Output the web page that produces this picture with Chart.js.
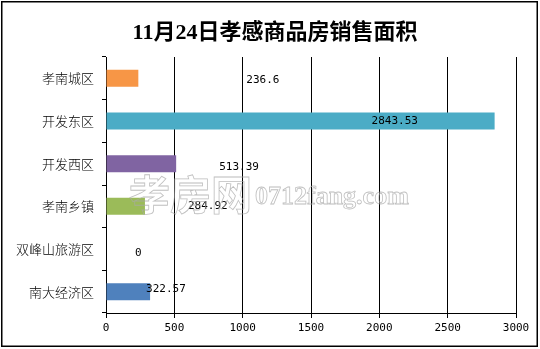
<!DOCTYPE html>
<html>
<head>
<meta charset="utf-8">
<script src="https://cdn.jsdelivr.net/npm/chart.js@4/dist/chart.umd.min.js"></script>
<style>
	html, body { margin: 0; padding: 0; background: #fff; }
	#wrap { width: 540px; height: 349px; position: relative; }
</style>
</head>
<body>
<div id="wrap"><canvas id="areaChart"></canvas></div>
<script>
(() => {
	"use strict";

	const chartTitle = "11月24日孝感商品房销售面积";
	const categories = ["孝南城区", "开发东区", "开发西区", "孝南乡镇", "双峰山旅游区", "南大经济区"];
	const areaValues = [236.6, 2843.53, 513.39, 284.92, 0, 322.57];
	const barColors = ["#F79646", "#4BACC6", "#8064A2", "#9BBB59", "#C0504D", "#4F81BD"];
	// where each value label sits relative to the end of its bar [dx, dy]
	const labelShift = [[108, 2], [-123, 0], [43, 3], [43, 0], [29, 4], [-4, -3]];

	const monoFont = "11px 'DejaVu Sans Mono', 'Liberation Mono', monospace";

	// white page, frame, title and site mark
	const framePlugin = {
		id: "frame",
		beforeDraw(chart) {
			const c = chart.ctx;
			c.save();
			c.fillStyle = "#fff";
			c.fillRect(0, 0, chart.width, chart.height);
			c.strokeStyle = "#000";
			c.lineWidth = 1.5;
			c.strokeRect(1.75, 1.75, chart.width - 4.5, chart.height - 4.5);
			c.fillStyle = "#000";
			c.font = "bold 22px 'Liberation Serif', 'Noto Sans CJK SC', serif";
			c.textAlign = "center";
			c.textBaseline = "middle";
			c.fillText(chartTitle, 275, 33);
			c.restore();
		},
		afterDraw(chart) {
			const c = chart.ctx;
			c.save();
			c.strokeStyle = "rgba(170,170,170,0.75)";
			c.lineWidth = 0.8;
			c.textBaseline = "alphabetic";
			c.font = "bold 41px 'Noto Sans CJK SC', sans-serif";
			c.strokeText("孝房网", 129, 210);
			c.font = "bold 26px 'Liberation Serif', serif";
			c.strokeText("0712fang.com", 255, 204);
			c.restore();
		},
	};

	// value labels next to the bars
	const valueLabels = {
		id: "valueLabels",
		afterDatasetsDraw(chart) {
			const c = chart.ctx;
			const meta = chart.getDatasetMeta(0);
			c.save();
			c.fillStyle = "#000";
			c.font = monoFont;
			c.textAlign = "left";
			c.textBaseline = "middle";
			meta.data.forEach((bar, i) => {
				const [dx, dy] = labelShift[i];
				c.fillText(String(areaValues[i]), bar.x + dx, bar.y + dy);
			});
			c.restore();
		},
	};

	const ctx = document.getElementById("areaChart");
	// eslint-disable-next-line no-unused-vars
	const areaChart = new Chart(ctx, {
		type: "bar",
		data: {
			labels: categories,
			datasets: [
				{
					data: areaValues,
					backgroundColor: barColors,
					borderWidth: 0,
					barPercentage: 0.4,
					categoryPercentage: 1,
				},
			],
		},
		plugins: [framePlugin, valueLabels],
		options: {
			indexAxis: "y",
			responsive: true,
			maintainAspectRatio: false,
			animation: false,
			devicePixelRatio: 1,
			layout: {
				padding: { top: 57, right: 24, bottom: 0, left: 0 },
			},
			plugins: {
				legend: { display: false },
				tooltip: { enabled: false },
				title: { display: false },
			},
			scales: {
				x: {
					min: 0,
					max: 3000,
					afterFit(scale) {
						scale.height = 36;
					},
					ticks: {
						stepSize: 500,
						color: "#000",
						font: { family: "'DejaVu Sans Mono', 'Liberation Mono', monospace", size: 11 },
						padding: 4,
						maxRotation: 0,
						callback: (v) => String(v),
					},
					grid: {
						color: "#000",
						lineWidth: 1,
						tickLength: 5,
					},
					border: { color: "#000", width: 1 },
				},
				y: {
					afterFit(scale) {
						scale.width = 106;
					},
					ticks: {
						color: "#000",
						font: { family: "'Noto Sans CJK SC', sans-serif", size: 13, weight: 300 },
						padding: 8,
					},
					grid: {
						drawOnChartArea: false,
						offset: true,
						color: "#000",
						tickLength: 4,
					},
					border: { color: "#000", width: 1 },
				},
			},
		},
	});
})();
</script>
</body>
</html>
